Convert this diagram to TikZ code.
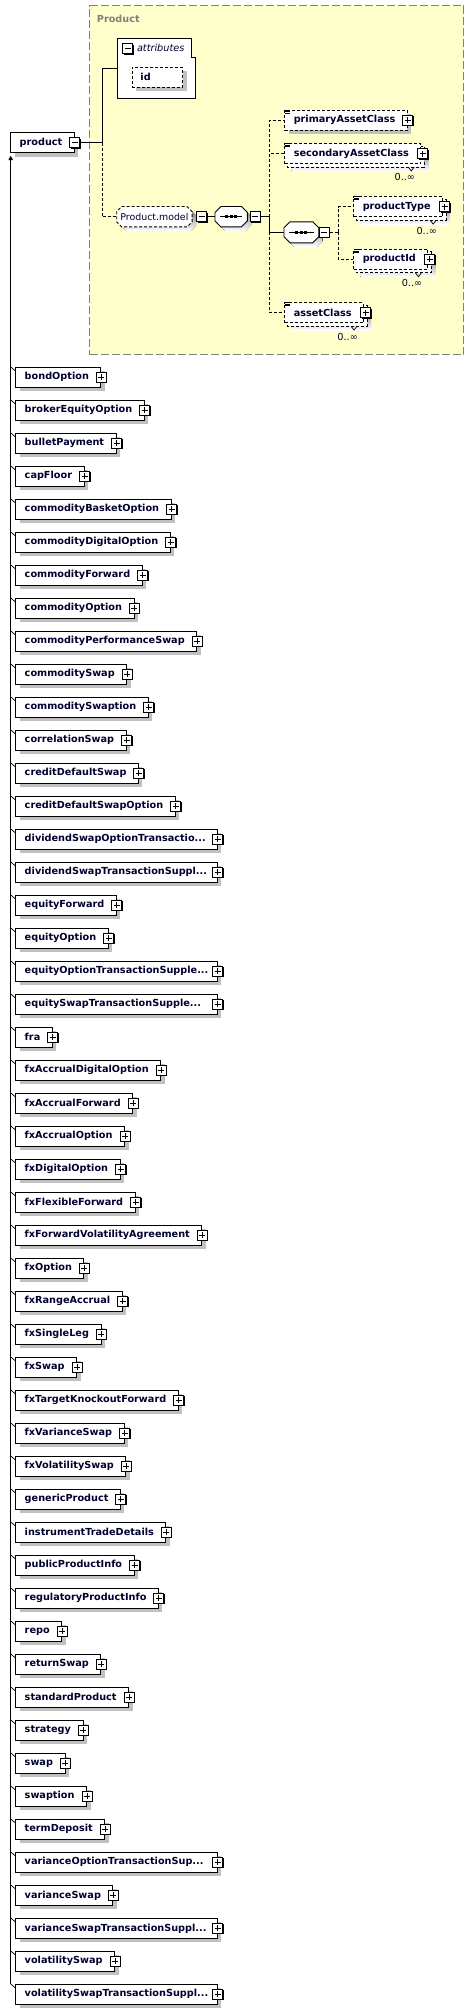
\documentclass[tikz,border=0pt]{standalone}
\usepackage{fontspec}
\newfontfamily\dvfont{DejaVu Sans}
\usetikzlibrary{arrows.meta,shadows,calc}
\definecolor{grpfill}{RGB}{255,255,204}
\definecolor{grpline}{RGB}{128,128,128}
\definecolor{shade}{RGB}{192,192,192}
\definecolor{navy}{RGB}{0,0,48}
\pgfdeclarelayer{grp}
\pgfdeclarelayer{bg}
\pgfsetlayers{grp,bg,main}
\newcommand{\eltf}{\dvfont\bfseries\fontsize{9.7}{11}\selectfont}
\newcommand{\plainf}{\dvfont\fontsize{9.7}{11}\selectfont}
\newcommand{\trdots}{...}
\newcommand{\chpath}[4]{([xshift=#2+#3,yshift=#4]#1.north west) -- ([xshift=-#2+#3,yshift=#4]#1.north east) -- ([xshift=#3,yshift=-#2+#4]#1.north east) -- ([xshift=#3,yshift=#2+#4]#1.south east) -- ([xshift=-#2+#3,yshift=#4]#1.south east) -- ([xshift=#2+#3,yshift=#4]#1.south west) -- ([xshift=#3,yshift=#2+#4]#1.south west) -- ([xshift=#3,yshift=-#2+#4]#1.north west) -- cycle}
\tikzset{
  conn/.style={line width=0.9pt},
  dconn/.style={line width=0.9pt, dash pattern=on 3pt off 2pt},
  shadowed/.style={drop shadow={shadow xshift=4pt,shadow yshift=-4pt,fill=shade,opacity=1}},
  eltbase/.style={draw, line width=0.9pt, fill=white, inner sep=0pt, minimum height=20pt, font=\eltf, text=navy},
  elt/.style={eltbase, shadowed},
  optelt/.style={eltbase, shadowed, dash pattern=on 3pt off 2pt},
  multielt/.style={eltbase, dash pattern=on 3pt off 2pt},
  cardlbl/.style={font=\plainf, text=navy, inner sep=0pt},
  pmbox/.style={draw, fill=white, line width=0.9pt, minimum size=10pt, inner sep=0pt, drop shadow={shadow xshift=1pt,shadow yshift=-1pt,fill=black,opacity=1}},
  plusbox/.style={pmbox, path picture={
     \draw[line width=0.9pt] ([xshift=2pt]path picture bounding box.west) -- ([xshift=-2pt]path picture bounding box.east);
     \draw[line width=0.9pt] ([yshift=-2pt]path picture bounding box.north) -- ([yshift=2pt]path picture bounding box.south);}},
  minusbox/.style={pmbox, path picture={
     \draw[line width=0.9pt] ([xshift=2pt]path picture bounding box.west) -- ([xshift=-2pt]path picture bounding box.east);}},
  hidden/.style={inner sep=0pt, minimum height=20pt},
}
\newcommand{\multideco}[1]{%
  \begin{pgfonlayer}{bg}
  \fill[shade] ([xshift=7pt,yshift=-7pt]#1.north west) rectangle ([xshift=7pt,yshift=-7pt]#1.south east);
  \draw[dconn, fill=white] ([xshift=3pt,yshift=-3pt]#1.north west) rectangle ([xshift=3pt,yshift=-3pt]#1.south east);
  \end{pgfonlayer}
  \draw[line width=0.7pt] ([xshift=-13pt,yshift=-3pt]#1.south east) -- ([xshift=-10pt,yshift=-7pt]#1.south east) -- ([xshift=-7pt,yshift=-3pt]#1.south east);
  \node[plusbox] (#1p) at ([xshift=1.5pt]#1.east) {};
  \node[cardlbl, anchor=east] (#1c) at ([xshift=-6pt,yshift=-13.5pt]#1.south east) {0..∞};
}
\newcommand{\simpleicon}[1]{%
  \foreach \d in {0.5,2,3.5}{\draw[line width=0.6pt] ([xshift=1pt,yshift=-\d pt]#1.north west) -- ([xshift=6pt,yshift=-\d pt]#1.north west);}%
}
\begin{document}
\begin{tikzpicture}[x=1pt,y=-1pt]
\useasboundingbox (0,0) rectangle (474,2014);
\begin{pgfonlayer}{grp}
\fill[white] (0,0) rectangle (474,2014);
\node[draw=grpline, fill=grpfill, line width=1pt, dash pattern=on 8pt off 3pt, anchor=north west, minimum width=374pt, minimum height=348.7pt, inner sep=0pt] (grp) at (89.3,5.3) {};
\end{pgfonlayer}
\node[font=\eltf, text=grpline, anchor=west, inner sep=0pt] (grplabel) at (96.7,19) {Product};

% root element
\node[elt, anchor=north west] (product) at (10.3,132.3) {\kern9pt product\kern12pt};
\node[minusbox] (productm) at (product.east) {};

% attributes
\node[inner sep=0pt, minimum width=77.7pt, minimum height=59.4pt, anchor=north west] (attr) at (117.3,38.3) {};
\begin{pgfonlayer}{bg}
\draw[conn, fill=white] (attr.north west) -- ([xshift=-4pt]attr.north east) -- ([xshift=-4pt,yshift=-19pt]attr.north east) -- ([yshift=-19pt]attr.north east) -- (attr.south east) -- (attr.south west) -- cycle;
\end{pgfonlayer}
\node[minusbox] (attrm) at (127.8,48.6) {};
\node[anchor=west, inner sep=0pt, font=\plainf\itshape, text=navy] (attrlbl) at (136.8,48.3) {attributes};
\node[optelt, anchor=north west] (id) at (131.7,66.7) {\makebox[50.6pt][l]{\kern8.3pt id}};

% Product.model group reference
\node[hidden, minimum width=75pt, font=\dvfont\fontsize{9.4}{11}\selectfont, text=navy, anchor=west] (pmodel) at (116.7,216.7) {Product.model};
\begin{pgfonlayer}{bg}
\fill[shade] \chpath{pmodel}{5pt}{4pt}{(-4pt)};
\draw[dconn, fill=white] \chpath{pmodel}{5pt}{0pt}{0pt};
\end{pgfonlayer}
\node[minusbox, anchor=west] (pmodelm) at ([xshift=4pt]pmodel.east) {};

% outer sequence
\node[hidden, minimum width=32pt, anchor=west] (seq1) at (215,216.7) {};
\begin{pgfonlayer}{bg}
\fill[shade] \chpath{seq1}{6pt}{4pt}{(-4pt)};
\draw[conn, fill=white] \chpath{seq1}{6pt}{0pt}{0pt};
\end{pgfonlayer}
\draw[conn] ([xshift=5pt]seq1.west) -- ([xshift=-5pt]seq1.east);
\foreach \dx in {-4.5,0,4.5}{\fill ([xshift=\dx pt]seq1.center) +(-1.4,-1.4) rectangle +(1.4,1.4);}
\node[minusbox, anchor=west] (seq1m) at ([xshift=2.3pt]seq1.east) {};

% inner sequence
\node[hidden, minimum width=34.3pt, minimum height=20.6pt, anchor=west] (seq2) at (284,232.3) {};
\begin{pgfonlayer}{bg}
\fill[shade] \chpath{seq2}{6pt}{4pt}{(-4pt)};
\draw[conn, fill=white] \chpath{seq2}{6pt}{0pt}{0pt};
\end{pgfonlayer}
\draw[conn] ([xshift=5pt]seq2.west) -- ([xshift=-5pt]seq2.east);
\foreach \dx in {-4.5,0,4.5}{\fill ([xshift=\dx pt]seq2.center) +(-1.4,-1.4) rectangle +(1.4,1.4);}
\node[minusbox, anchor=west] (seq2m) at ([xshift=0.3pt]seq2.east) {};

% children
\node[optelt, anchor=west] (pac) at (284.3,120) {\kern9pt primaryAssetClass\kern12pt};
\node[plusbox] (pacp) at (pac.east) {};
\simpleicon{pac}
\node[multielt, anchor=west] (sac) at (284.3,153.5) {\kern9pt secondaryAssetClass\kern12pt};
\multideco{sac}
\simpleicon{sac}
\node[multielt, anchor=west] (pt) at (353.3,206.7) {\kern9pt productType\kern12pt};
\multideco{pt}
\simpleicon{pt}
\node[multielt, anchor=west] (pid) at (353.3,259.3) {\kern9pt productId\kern12pt};
\multideco{pid}
\simpleicon{pid}
\node[multielt, anchor=west] (ac) at (284.3,312.7) {\kern9pt assetClass\kern12pt};
\multideco{ac}
\simpleicon{ac}

% connectors in group
\coordinate (jx) at (102.3,0);
\coordinate (bx) at (269.3,0);
\coordinate (bx2) at (338.3,0);
\draw[conn] (productm.east) -- (productm.east -| jx) |- (attr.west);
\draw[dconn] (productm.east -| jx) |- (pmodel.west);
\draw[conn] (pmodelm.east) -- (seq1.west);
\draw[conn] (seq1m.east) -- (seq1m.east -| bx);
\draw[dconn] (seq1m.east -| bx) |- (pac.west);
\draw[dconn] (seq1m.east -| bx) |- (sac.west);
\draw[conn] (seq1m.east -| bx) |- (seq2.west);
\draw[dconn] (seq2.west -| bx) |- (ac.west);
\draw[dconn] (seq2m.east) -- (seq2m.east -| bx2);
\draw[dconn] (seq2m.east -| bx2) |- (pt.west);
\draw[dconn] (seq2m.east -| bx2) |- (pid.west);

% list of substitution members
\coordinate (spine) at (10.7,0);
\coordinate (spinetop) at (10.7,155.7);
\foreach \n/\t [count=\i from 0] in {bondOption/0, brokerEquityOption/0, bulletPayment/0, capFloor/0, commodityBasketOption/0, commodityDigitalOption/0, commodityForward/0, commodityOption/0, commodityPerformanceSwap/0, commoditySwap/0, commoditySwaption/0, correlationSwap/0, creditDefaultSwap/0, creditDefaultSwapOption/0, dividendSwapOptionTransactio\trdots/1, dividendSwapTransactionSuppl\trdots/1, equityForward/0, equityOption/0, equityOptionTransactionSupple\trdots/1, equitySwapTransactionSupple\trdots/1, fra/0, fxAccrualDigitalOption/0, fxAccrualForward/0, fxAccrualOption/0, fxDigitalOption/0, fxFlexibleForward/0, fxForwardVolatilityAgreement/0, fxOption/0, fxRangeAccrual/0, fxSingleLeg/0, fxSwap/0, fxTargetKnockoutForward/0, fxVarianceSwap/0, fxVolatilitySwap/0, genericProduct/0, instrumentTradeDetails/0, publicProductInfo/0, regulatoryProductInfo/0, repo/0, returnSwap/0, standardProduct/0, strategy/0, swap/0, swaption/0, termDeposit/0, varianceOptionTransactionSup\trdots/1, varianceSwap/0, varianceSwapTransactionSuppl\trdots/1, volatilitySwap/0, volatilitySwapTransactionSuppl\trdots/1}{
  \pgfmathsetmacro\yy{377.3+33*\i}
  \ifnum\t=1
    \node[elt, anchor=west] (item\i) at (15.3,\yy) {\makebox[201.4pt][l]{\kern9pt \n}};
  \else
    \node[elt, anchor=west] (item\i) at (15.3,\yy) {\kern9pt \n\kern12pt};
  \fi
  \node[plusbox] (itemp\i) at (item\i.east) {};
  \draw[line width=0.7pt] (item\i.north west -| spine) -- ([yshift=-4pt]item\i.north west);
}
\draw[conn, -{Triangle[length=4.5pt,width=4.5pt]}] (item49.north west -| spine) -- (spinetop);
\end{tikzpicture}
\end{document}
